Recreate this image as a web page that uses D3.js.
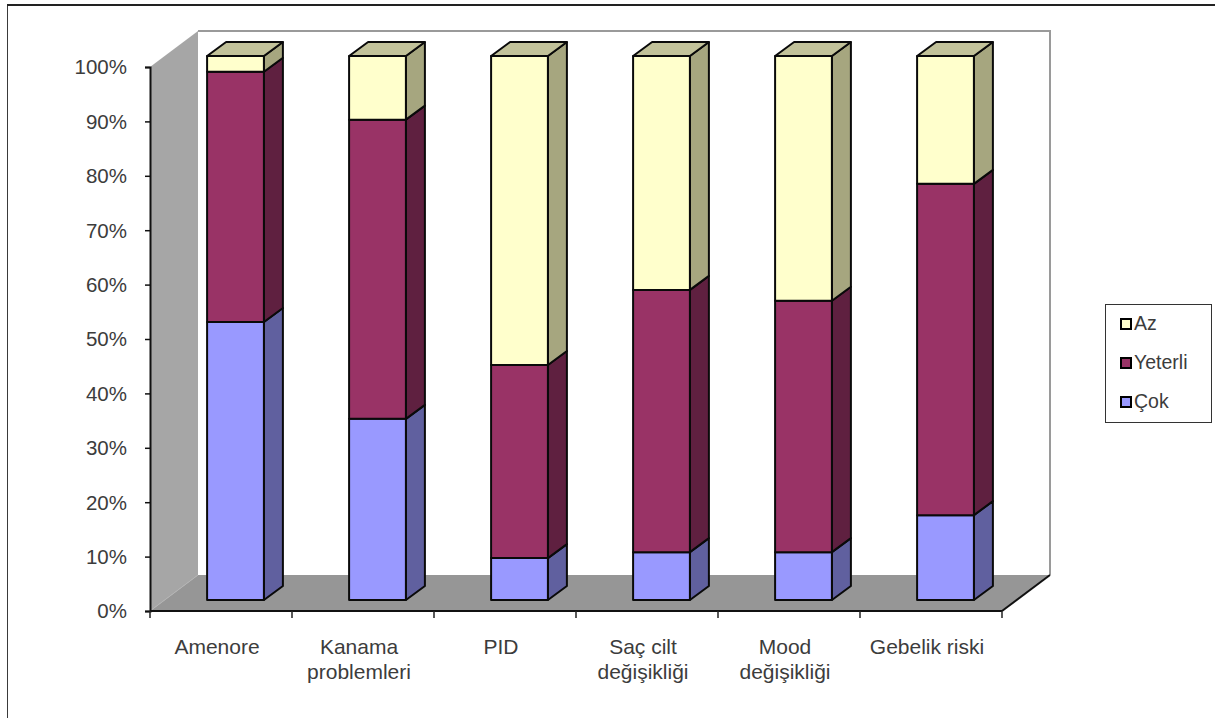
<!DOCTYPE html>
<html>
<head>
<meta charset="utf-8">
<script src="https://cdn.jsdelivr.net/npm/d3@7"></script>
<style>
  html, body { margin: 0; padding: 0; background: #fff; }
  svg { display: block; }
  text { font-family: "Liberation Sans", Arial, sans-serif; fill: #3c3c3c; }
</style>
</head>
<body>
<svg id="chart" width="1215" height="718"></svg>
<script>
const categories = ["Amenore", "Kanama problemleri", "PID", "Saç cilt değişikliği", "Mood değişikliği", "Gebelik riski"];
const categoryLines = [["Amenore"], ["Kanama", "problemleri"], ["PID"], ["Saç cilt", "değişikliği"], ["Mood", "değişikliği"], ["Gebelik riski"]];
const seriesNames = ["Çok", "Yeterli", "Az"];
const cokValues = [51.1, 33.3, 7.7, 8.8, 8.8, 15.6];
const yeterliValues = [46.0, 55.0, 35.5, 48.2, 46.2, 60.9];
const azValues = [2.9, 11.7, 56.8, 43.0, 45.0, 23.5];
const tickValues = [0, 10, 20, 30, 40, 50, 60, 70, 80, 90, 100];
const frontColors = { "Çok": "#9999ff", "Yeterli": "#993366", "Az": "#ffffcc" };
const sideColors = { "Çok": "#60609f", "Yeterli": "#5f2040", "Az": "#a6a67f" };
const topColor = "#c2c29a";

const svg = d3.select("#chart");
const pts = a => a.map(p => p.join(",")).join(" ");

const x = d3.scaleBand().domain(categories).range([150, 1002]).paddingInner(0.6).paddingOuter(0.3);
const y = d3.scaleLinear().domain([0, 100]).range([611, 67]);

// Oblique projection: the full floor depth, and the bars' front plane and depth
const wall = [48, -36];
const barPlane = [14.5, -11];
const barDepth = [19, -14];

// Outer frame: only the top and left edges are visible
svg.append("path").attr("d", "M7.5,718V5.5H1215").attr("fill", "none").attr("stroke", "#3a3a3a");
svg.append("line").attr("x1", 7).attr("x2", 1215).attr("y1", 5).attr("y2", 5).attr("stroke", "#222").attr("stroke-width", 2);

// Back wall, side wall and floor
const [x0, x1] = x.range();
const y0 = y(0), y1 = y(100);
svg.append("polygon").attr("fill", "#fff")
  .attr("points", pts([[x0 + wall[0], y1 + wall[1]], [x1 + wall[0], y1 + wall[1]], [x1 + wall[0], y0 + wall[1]], [x0 + wall[0], y0 + wall[1]]]));
svg.append("polyline").attr("fill", "none").attr("stroke", "#9a9a9a").attr("stroke-width", 2)
  .attr("points", pts([[x0 + wall[0], y1 + wall[1]], [x1 + wall[0], y1 + wall[1]], [x1 + wall[0], y0 + wall[1]]]));
svg.append("polygon").attr("fill", "#a6a6a6")
  .attr("points", pts([[x0, y1], [x0 + wall[0], y1 + wall[1]], [x0 + wall[0], y0 + wall[1]], [x0, y0]]));
svg.append("polygon").attr("fill", "#969696")
  .attr("points", pts([[x0, y0], [x0 + wall[0], y0 + wall[1]], [x1 + wall[0], y0 + wall[1]], [x1, y0]]));
svg.append("line").attr("stroke", "#b4b4b4")
  .attr("x1", x0).attr("y1", y0).attr("x2", x0 + wall[0]).attr("y2", y0 + wall[1]);

// Stacked prisms, drawn segment by segment from the bottom up
const rows = categories.map((c, i) => ({ category: c, "Çok": cokValues[i], "Yeterli": yeterliValues[i], "Az": azValues[i] }));
const stacked = d3.stack().keys(seriesNames)(rows);
const barW = x.bandwidth();

const segments = stacked.flatMap(s => s.map(d => ({ key: s.key, category: d.data.category, lo: d[0], hi: d[1] })));
const bars = svg.append("g").attr("stroke", "#0a0a0a").attr("stroke-width", 2).attr("stroke-linejoin", "round");
bars.selectAll("polygon.side").data(segments).join("polygon").attr("class", "side")
  .attr("fill", d => sideColors[d.key])
  .attr("points", d => {
    const r = x(d.category) + barPlane[0] + barW;
    const a = y(d.lo) + barPlane[1], b = y(d.hi) + barPlane[1];
    return pts([[r, a], [r, b], [r + barDepth[0], b + barDepth[1]], [r + barDepth[0], a + barDepth[1]]]);
  });
bars.selectAll("rect.front").data(segments).join("rect").attr("class", "front")
  .attr("x", d => x(d.category) + barPlane[0])
  .attr("width", barW)
  .attr("y", d => y(d.hi) + barPlane[1])
  .attr("height", d => y(d.lo) - y(d.hi))
  .attr("fill", d => frontColors[d.key]);
bars.selectAll("polygon.top").data(categories).join("polygon").attr("class", "top")
  .attr("fill", topColor)
  .attr("points", c => {
    const l = x(c) + barPlane[0], t = y(100) + barPlane[1];
    return pts([[l, t], [l + barW, t], [l + barW + barDepth[0], t + barDepth[1]], [l + barDepth[0], t + barDepth[1]]]);
  });

// Value axis
const yAxis = d3.axisLeft(y).tickValues(tickValues).tickSize(5).tickPadding(18).tickFormat(d => d + "%");
const yG = svg.append("g").attr("transform", `translate(${x0},0)`).call(yAxis);
yG.selectAll("path,line").attr("stroke", "#111").attr("stroke-width", 1.5);
yG.select("path").attr("stroke-width", 2);
yG.selectAll("text").attr("font-size", 20.5).attr("dy", "0.34em").style("fill", "#3c3c3c");
yG.attr("font-family", null);

// Category axis: ticks sit on the band boundaries, labels between them
const boundaries = d3.range(categories.length + 1).map(i => x0 + i * x.step());
const base = svg.append("g");
base.append("line").attr("x1", x0).attr("x2", x1).attr("y1", y0).attr("y2", y0).attr("stroke", "#111").attr("stroke-width", 2);
base.append("line").attr("x1", x1).attr("y1", y0).attr("x2", x1 + wall[0]).attr("y2", y0 + wall[1]).attr("stroke", "#111").attr("stroke-width", 2);
base.selectAll("line.tick").data(boundaries).join("line").attr("class", "tick")
  .attr("x1", d => d).attr("x2", d => d).attr("y1", y0).attr("y2", y0 + 7)
  .attr("stroke", "#222").attr("stroke-width", 1.5);

const labels = svg.append("g").selectAll("text").data(categories).join("text")
  .attr("text-anchor", "middle")
  .attr("font-size", 21);
labels.each(function (c, i) {
  d3.select(this).selectAll("tspan").data(categoryLines[i]).join("tspan")
    .attr("x", x(c) + barW / 2 - 4)
    .attr("y", (d, j) => 654 + j * 25)
    .text(d => d);
});

// Legend, listed top of stack first
const legendItems = seriesNames.slice().reverse();
const legendY = d3.scalePoint().domain(legendItems).range([324, 402]);
svg.append("rect").attr("x", 1105.5).attr("y", 304.5).attr("width", 106).attr("height", 118)
  .attr("fill", "#fff").attr("stroke", "#333");
const legend = svg.append("g").selectAll("g").data(legendItems).join("g")
  .attr("transform", d => `translate(1120,${legendY(d)})`);
legend.append("rect").attr("x", 1).attr("y", -5).attr("width", 10).attr("height", 10)
  .attr("fill", d => frontColors[d]).attr("stroke", "#000").attr("stroke-width", 2);
legend.append("text").attr("x", 14).attr("y", -1).attr("dy", "0.36em").attr("font-size", 19.5).text(d => d);
</script>
</body>
</html>
